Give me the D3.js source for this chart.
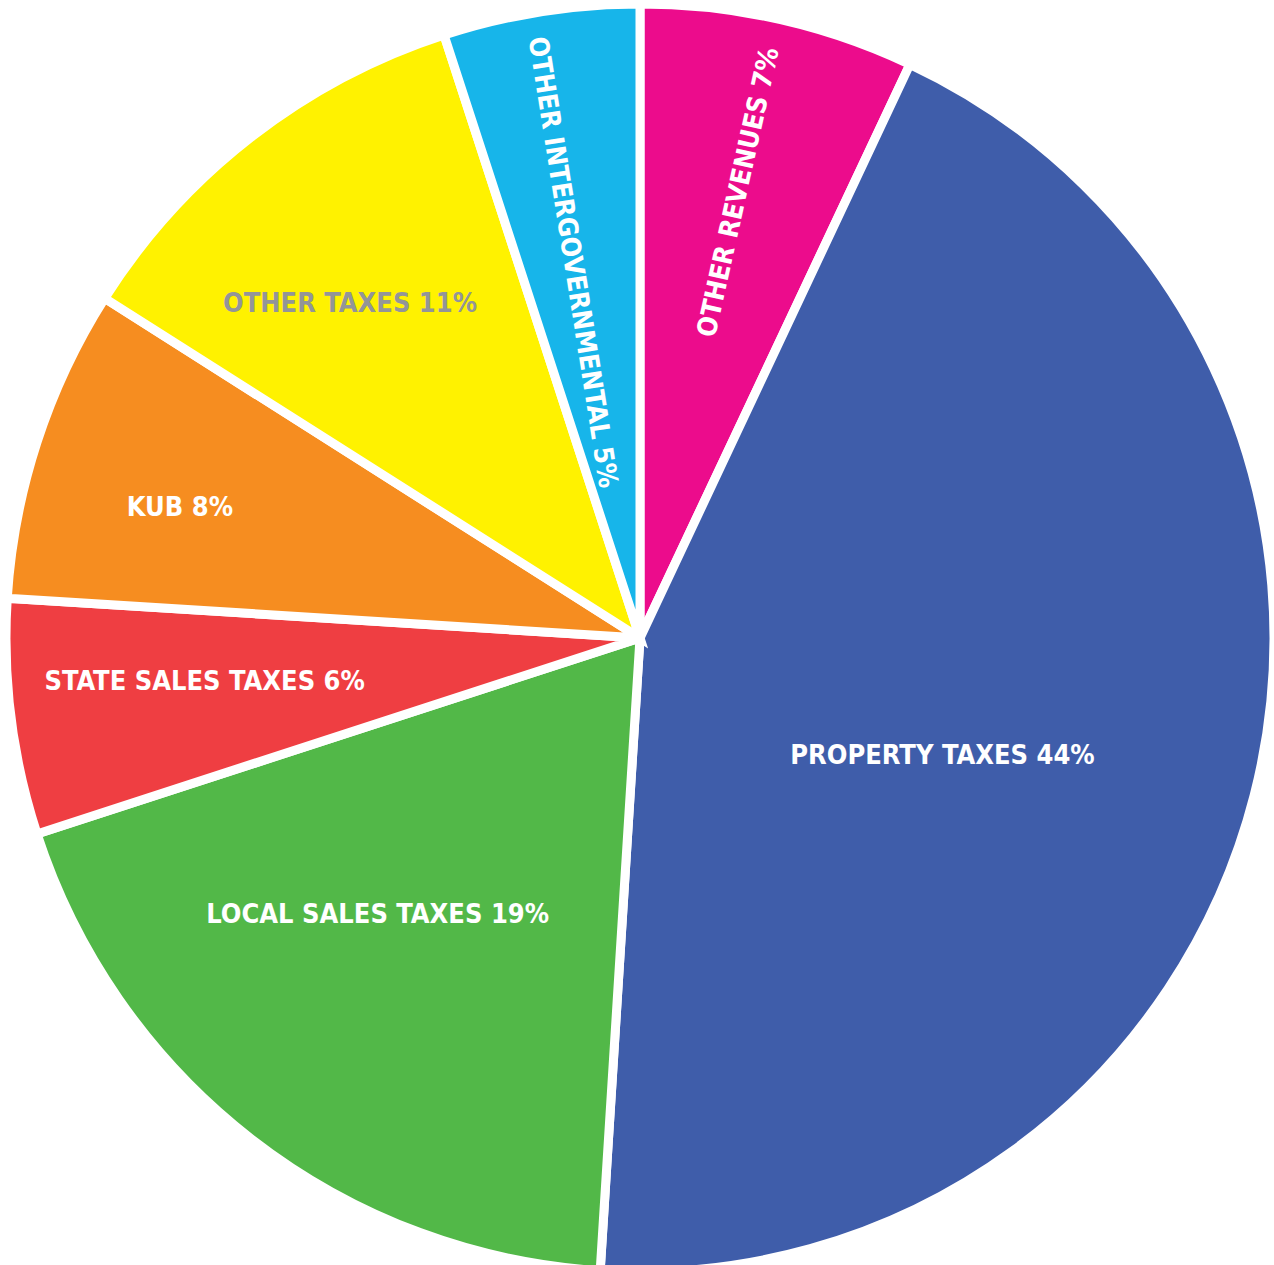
<!DOCTYPE html>
<html>
<head>
<meta charset="utf-8">
<script src="https://cdn.jsdelivr.net/npm/d3@7"></script>
<style>
  html, body { margin: 0; padding: 0; background: #fff; }
  svg { display: block; }
</style>
</head>
<body>
<svg width="1274" height="1265"></svg>
<script>
// доли бюджета, по часовой стрелке от 12 часов
const categories = [
    "OTHER REVENUES",
    "PROPERTY TAXES",
    "LOCAL SALES TAXES",
    "STATE SALES TAXES",
    "KUB",
    "OTHER TAXES",
    "OTHER INTERGOVERNMENTAL"
];
const values = [7, 44, 19, 6, 8, 11, 5];

const colors = ["#ec0c8c", "#3f5daa", "#52b848", "#ef3e42", "#f68d20", "#fff200", "#17b5ea"];
const textColors = ["#fff", "#fff", "#fff", "#fff", "#fff", "#939598", "#fff"];

// положение подписей: доля радиуса, сдвиг угла (град), поворот текста
const labelLayout = [
    { r: 0.72, da: -0.3, rot: -77.5 },
    { r: 0.511, da: 6.6, rot: 0 },
    { r: 0.60, da: 5.8, rot: 0 },
    { r: 0.69, da: 1.6, rot: 0 },
    { r: 0.755, da: -2, rot: 0 },
    { r: 0.70, da: -3, rot: 0 },
    { r: 0.602, da: -1, rot: 81 }
];

const svg = d3.select("svg");
const centerX = 640;
const centerY = 638;
const radius = 634;

const pie = d3.pie().sort(null).value(d => d)(values);
const arc = d3.arc().innerRadius(0).outerRadius(radius);

const g = svg.append("g").attr("transform", `translate(${centerX},${centerY})`);

g.selectAll("path.slice")
    .data(pie)
    .join("path")
    .attr("class", "slice")
    .attr("d", arc)
    .attr("fill", (d, i) => colors[i])
    .attr("stroke", "#fff")
    .attr("stroke-width", 9)
    .attr("stroke-linejoin", "miter");

g.selectAll("text.label")
    .data(pie)
    .join("text")
    .attr("class", "label")
    .attr("transform", (d, i) => {
        const L = labelLayout[i];
        const a = (d.startAngle + d.endAngle) / 2 + L.da * Math.PI / 180;
        const rr = radius * L.r;
        const x = rr * Math.sin(a);
        const y = -rr * Math.cos(a);
        return `translate(${x},${y}) rotate(${L.rot})`;
    })
    .attr("text-anchor", "middle")
    .attr("dy", "0.36em")
    .attr("fill", (d, i) => textColors[i])
    .style("font-family", "'DejaVu Sans Condensed', 'DejaVu Sans', sans-serif")
    .style("font-weight", "bold")
    .style("font-size", "27px")
    .text((d, i) => `${categories[i]} ${values[i]}%`);
</script>
</body>
</html>
